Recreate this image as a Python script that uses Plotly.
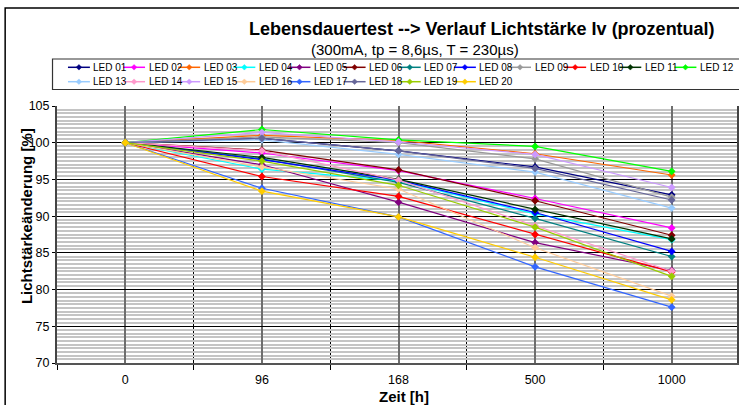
import plotly.graph_objects as go

hours = ["0", "96", "168", "500", "1000"]

led_names = ["LED 01", "LED 02", "LED 03", "LED 04", "LED 05", "LED 06", "LED 07",
             "LED 08", "LED 09", "LED 10", "LED 11", "LED 12", "LED 13", "LED 14",
             "LED 15", "LED 16", "LED 17", "LED 18", "LED 19", "LED 20"]

led_01 = [100, 100.6, 98.9, 96.7, 92.9]
led_02 = [100, 98.6, 96.2, 92.4, 88.4]
led_03 = [100, 101.0, 100.3, 98.5, 95.6]
led_04 = [100, 96.4, 94.8, 90.3, 86.8]
led_05 = [100, 97.0, 91.9, 86.4, 82.6]
led_06 = [100, 99.0, 96.3, 92.1, 87.4]
led_07 = [100, 97.8, 94.6, 89.7, 84.5]
led_08 = [100, 97.7, 94.9, 90.5, 85.2]
led_09 = [100, 100.8, 100.0, 97.8, 92.6]
led_10 = [100, 95.4, 92.7, 87.5, 82.4]
led_11 = [100, 98.0, 95.0, 90.9, 86.9]
led_12 = [100, 101.8, 100.4, 99.5, 96.1]
led_13 = [100, 100.4, 98.4, 96.0, 91.1]
led_14 = [100, 98.9, 94.9, 88.7, 82.5]
led_15 = [100, 101.4, 100.1, 98.4, 93.9]
led_16 = [100, 96.7, 93.7, 85.7, 79.1]
led_17 = [100, 93.8, 89.9, 83.1, 77.6]
led_18 = [100, 100.6, 98.9, 96.5, 92.2]
led_19 = [100, 97.5, 94.2, 88.5, 81.8]
led_20 = [100, 93.4, 89.9, 84.4, 78.6]

series = [led_01, led_02, led_03, led_04, led_05, led_06, led_07, led_08, led_09, led_10,
          led_11, led_12, led_13, led_14, led_15, led_16, led_17, led_18, led_19, led_20]

colors = ["#000080", "#FF00FF", "#FF6600", "#00FFFF", "#800080", "#800000", "#008080",
          "#0000FF", "#999999", "#FF0000", "#003300", "#00FF00", "#99CCFF", "#FF99CC",
          "#CC99FF", "#FFCC99", "#3366FF", "#666699", "#99CC00", "#FFCC00"]

W, H = 739, 405
L, R, T, B = 57, 0, 106, 42
PW = W - L - R
PH = H - T - B
FONT = "Liberation Sans, Arial, sans-serif"


def px(x):
    return (x - L) / PW


def py(y):
    return (H - B - y) / PH


xpos = list(range(len(hours)))

fig = go.Figure()
for name, vals, col in zip(led_names, series, colors):
    fig.add_trace(go.Scatter(
        x=xpos, y=vals, mode="lines+markers", name=name,
        line=dict(color=col, width=1.2),
        marker=dict(symbol="diamond", size=6, color=col),
        showlegend=False,
    ))

shapes = []
annotations = []

# outer chart border
shapes.append(dict(type="rect", xref="paper", yref="paper",
                   x0=px(5), x1=px(760), y0=py(8), y1=py(420),
                   line=dict(color="black", width=1.5), layer="below"))

# legend box
shapes.append(dict(type="rect", xref="paper", yref="paper",
                   x0=px(52.5), x1=px(760), y0=py(59), y1=py(89.5),
                   line=dict(color="#333333", width=1.2), fillcolor="white"))

for i, (name, col) in enumerate(zip(led_names, colors)):
    row, c = divmod(i, 12)
    x0 = 68 + c * 55.3
    yc = 67.3 + row * 14.4
    shapes.append(dict(type="line", xref="paper", yref="paper",
                       x0=px(x0), x1=px(x0 + 22), y0=py(yc), y1=py(yc),
                       line=dict(color=col, width=1.5)))
    xm = x0 + 11
    d = 2.8
    path = "M {} {} L {} {} L {} {} L {} {} Z".format(
        px(xm - d), py(yc), px(xm), py(yc - d), px(xm + d), py(yc), px(xm), py(yc + d))
    shapes.append(dict(type="path", xref="paper", yref="paper", path=path,
                       fillcolor=col, line=dict(color=col, width=0.5)))
    annotations.append(dict(text=name, xref="paper", yref="paper",
                            x=px(x0 + 23.5), y=py(yc), xanchor="left", yanchor="middle",
                            showarrow=False, font=dict(size=10, color="black", family=FONT)))

# titles
annotations.append(dict(text="<b>Lebensdauertest --> Verlauf Lichtstärke Iv (prozentual)</b>",
                        xref="paper", yref="paper", x=px(483), y=py(29.5),
                        xanchor="center", yanchor="middle", showarrow=False,
                        font=dict(size=18, color="black", family=FONT)))
annotations.append(dict(text="(300mA, tp = 8,6µs, T = 230µs)",
                        xref="paper", yref="paper", x=px(416), y=py(49.5),
                        xanchor="center", yanchor="middle", showarrow=False,
                        font=dict(size=15, color="black", family=FONT)))
annotations.append(dict(text="<b>Zeit [h]</b>", xref="paper", yref="paper",
                        x=px(405), y=py(396), xanchor="center", yanchor="middle",
                        showarrow=False, font=dict(size=15, color="black", family=FONT)))
annotations.append(dict(text="<b>Lichtstärkeänderung [%]</b>", xref="paper", yref="paper",
                        x=px(26), y=py(216), xanchor="center", yanchor="middle",
                        textangle=-90, showarrow=False,
                        font=dict(size=15, color="black", family=FONT)))

fig.update_layout(
    width=W, height=H,
    margin=dict(l=L, r=R, t=T, b=B),
    paper_bgcolor="white", plot_bgcolor="white",
    font=dict(family=FONT, color="black"),
    showlegend=False,
    shapes=shapes,
    annotations=annotations,
    xaxis=dict(
        range=[-0.5, 4.5 - 3 / 137], tickmode="array", tickvals=xpos, ticktext=hours,
        showgrid=True, gridcolor="#6e6e6e", gridwidth=2,
        ticks="", ticklabelstandoff=4, tickfont=dict(size=12.5, color="black"),
        showline=True, linecolor="#555555", linewidth=2, zeroline=False,
        minor=dict(tick0=-0.5, dtick=1, showgrid=True, gridcolor="black", gridwidth=1,
                   ticks="outside", ticklen=5, tickcolor="black", tickwidth=1),
    ),
    yaxis=dict(
        range=[70, 105], tickmode="linear", tick0=70, dtick=5,
        showgrid=True, gridcolor="black", gridwidth=1,
        ticks="outside", ticklen=3, tickcolor="black",
        tickfont=dict(size=12.5, color="black"),
        showline=True, linecolor="#444444", linewidth=2, mirror=True, zeroline=False,
        minor=dict(dtick=0.5, showgrid=True, gridcolor="#c4c4c4", gridwidth=1.5, ticks=""),
    ),
)

fig.write_html("out.html")
